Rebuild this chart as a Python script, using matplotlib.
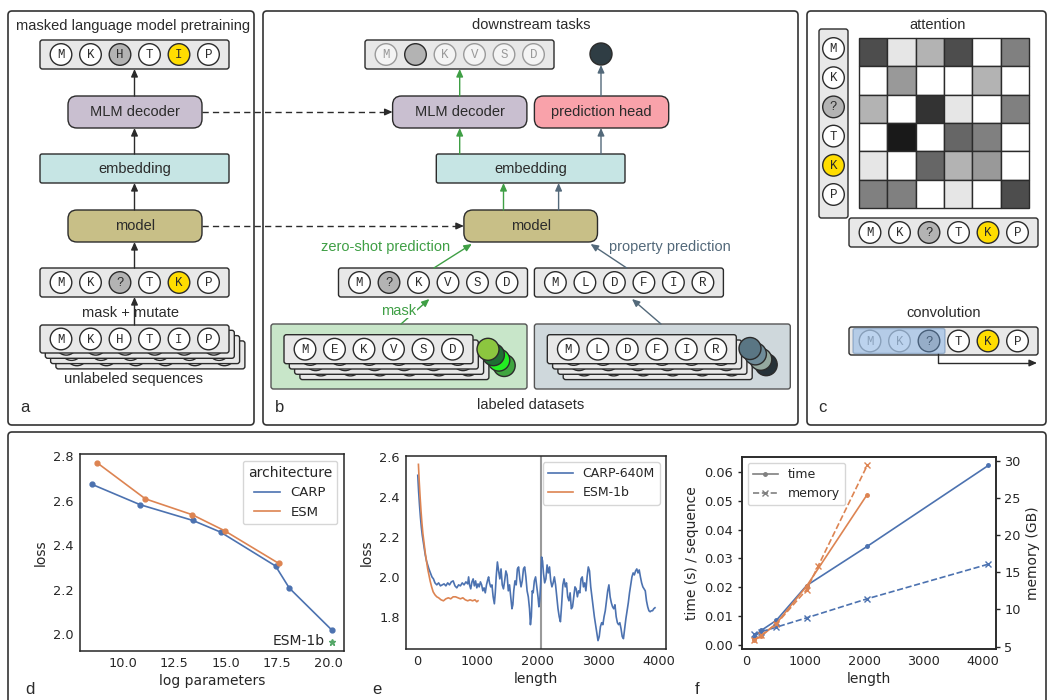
import matplotlib
matplotlib.use('Agg')
import matplotlib.pyplot as plt
from matplotlib.patches import FancyBboxPatch, Circle, Rectangle
from matplotlib.lines import Line2D

# ---------------- data ----------------
seq_mlm_out = ['M', 'K', 'H', 'T', 'I', 'P']
seq_masked = ['M', 'K', '?', 'T', 'K', 'P']
seq_unlabeled = ['M', 'K', 'H', 'T', 'I', 'P']
seq_down_out = ['M', '', 'K', 'V', 'S', 'D']
seq_zeroshot = ['M', '?', 'K', 'V', 'S', 'D']
seq_property = ['M', 'L', 'D', 'F', 'I', 'R']
seq_labeled_zs = ['M', 'E', 'K', 'V', 'S', 'D']
attention = [
    [0.70, 0.10, 0.30, 0.70, 0.00, 0.50],
    [0.00, 0.40, 0.00, 0.00, 0.30, 0.00],
    [0.30, 0.00, 0.80, 0.10, 0.00, 0.50],
    [0.00, 0.90, 0.00, 0.60, 0.50, 0.00],
    [0.10, 0.00, 0.60, 0.30, 0.40, 0.00],
    [0.50, 0.50, 0.00, 0.10, 0.00, 0.70],
]

# panel d
carp_logparams = [8.49, 10.83, 13.41, 14.75, 17.43, 18.10, 20.18]
carp_loss = [2.673, 2.582, 2.511, 2.459, 2.307, 2.208, 2.019]
esm_logparams = [8.75, 11.09, 13.37, 14.95, 17.58]
esm_loss = [2.769, 2.608, 2.537, 2.465, 2.319]
esm1b_logparams = [20.18]
esm1b_loss = [1.966]

# panel e
e_len_carp = [16, 30, 45, 60, 75, 90, 105, 120, 140, 160,
              180, 200, 225, 250, 275, 300, 330, 360, 390, 420,
              450, 480, 510, 540, 570, 600, 630, 660, 690, 720,
              750, 780, 810, 840, 855, 870, 890, 910, 930, 950,
              970, 990, 1010, 1030, 1050, 1070, 1090, 1110, 1130, 1150,
              1170, 1185, 1200, 1220, 1240, 1260, 1280, 1295, 1310, 1330,
              1350, 1370, 1390, 1410, 1430, 1450, 1470, 1490, 1510, 1530,
              1550, 1570, 1585, 1600, 1620, 1640, 1660, 1680, 1700, 1720,
              1740, 1760, 1780, 1800, 1820, 1840, 1860, 1875, 1890, 1905,
              1920, 1940, 1960, 1980, 2000, 2015, 2030, 2045, 2060, 2075,
              2090, 2110, 2130, 2150, 2170, 2190, 2210, 2230, 2250, 2270,
              2290, 2310, 2330, 2350, 2370, 2390, 2410, 2430, 2450, 2470,
              2490, 2510, 2530, 2550, 2570, 2590, 2610, 2630, 2650, 2670,
              2690, 2710, 2730, 2750, 2770, 2790, 2810, 2830, 2850, 2870,
              2890, 2910, 2930, 2950, 2970, 2990, 3010, 3030, 3050, 3070,
              3090, 3110, 3130, 3150, 3170, 3190, 3210, 3230, 3250, 3270,
              3290, 3310, 3330, 3350, 3370, 3390, 3410, 3430, 3450, 3470,
              3490, 3510, 3530, 3550, 3570, 3590, 3610, 3630, 3650, 3670,
              3690, 3710, 3730, 3750, 3770, 3790, 3810, 3830, 3850, 3870,
              3890, 3910, 3930]
e_loss_carp = [2.51, 2.43, 2.36, 2.30, 2.25, 2.21, 2.18, 2.15, 2.11, 2.08,
               2.06, 2.04, 2.02, 2.00, 1.99, 1.97, 1.96, 1.97, 1.955, 1.96,
               1.965, 1.955, 1.97, 1.96, 1.975, 1.98, 1.955, 1.945, 1.96, 1.955,
               1.97, 1.96, 1.975, 1.965, 2.00, 1.96, 1.94, 1.975, 1.99, 1.955,
               1.98, 1.945, 1.965, 1.95, 1.975, 1.96, 1.93, 1.945, 1.92, 1.96,
               1.985, 2.00, 1.97, 1.95, 1.96, 1.90, 1.865, 1.92, 2.00, 2.075,
               2.03, 1.99, 2.04, 1.96, 1.94, 1.98, 2.03, 2.01, 1.93, 1.96,
               1.90, 1.84, 1.86, 1.93, 1.98, 1.96, 2.04, 2.05, 1.99, 1.95,
               1.98, 2.04, 2.05, 2.00, 1.93, 1.90, 1.84, 1.76, 1.80, 1.93,
               1.92, 1.98, 2.00, 1.95, 1.90, 1.85, 1.89, 1.97, 2.10, 2.08,
               2.02, 1.97, 1.99, 2.06, 2.02, 2.05, 1.98, 1.95, 1.97, 2.00,
               1.96, 1.90, 1.84, 1.80, 1.775, 1.86, 1.96, 1.99, 1.95, 1.97,
               1.90, 1.88, 1.92, 1.84, 1.85, 1.90, 1.95, 1.94, 1.90, 1.93,
               1.92, 1.99, 2.00, 1.95, 1.97, 1.93, 2.00, 2.05, 2.03, 1.95,
               1.90, 1.85, 1.80, 1.76, 1.72, 1.68, 1.70, 1.75, 1.77, 1.76,
               1.80, 1.83, 1.88, 1.93, 1.96, 1.90, 1.87, 1.85, 1.84, 1.86,
               1.80, 1.77, 1.76, 1.77, 1.74, 1.70, 1.69, 1.74, 1.79, 1.83,
               1.87, 1.92, 1.96, 2.00, 2.02, 2.01, 2.03, 2.04, 2.02, 2.035,
               2.00, 1.97, 1.95, 1.94, 1.93, 1.88, 1.85, 1.83, 1.825, 1.83,
               1.83, 1.84, 1.845]
e_len_esm = [27, 40, 55, 70, 85, 100, 120, 140, 160, 180,
             200, 220, 245, 270, 300, 330, 360, 400, 440, 480,
             520, 560, 600, 640, 680, 720, 760, 800, 840, 880,
             920, 960, 990, 1010]
e_loss_esm = [2.565, 2.48, 2.40, 2.33, 2.27, 2.22, 2.17, 2.12, 2.08, 2.04,
              2.01, 1.98, 1.95, 1.925, 1.91, 1.90, 1.895, 1.885, 1.88, 1.89,
              1.895, 1.89, 1.90, 1.90, 1.895, 1.89, 1.895, 1.885, 1.88, 1.885,
              1.88, 1.885, 1.875, 1.88]
e_max_len = 2048

# panel f
f_len_carp = [128, 256, 512, 1024, 2048, 4096]
f_time_carp = [0.0025, 0.0050, 0.0085, 0.0206, 0.0342, 0.0623]
f_mem_carp = [6.64, 7.0, 7.62, 8.87, 11.43, 16.08]
f_len_esm = [128, 256, 512, 1024, 2048]
f_time_esm = [0.0016, 0.0030, 0.0074, 0.0204, 0.0522]
f_len_esm_mem = [128, 256, 512, 1024, 1220, 2048]
f_mem_esm = [5.86, 6.53, 8.05, 12.65, 15.85, 29.34]

# ---------------- figure ----------------
W, H = 1048, 700
fig = plt.figure(figsize=(W / 100, H / 100), dpi=100)
ov = fig.add_axes([0, 0, 1, 1], zorder=0)
ov.set_xlim(0, W)
ov.set_ylim(H, 0)
ov.axis('off')

SANS = 'Liberation Sans'
MONO = 'Liberation Mono'
DARK = '#2b2b2b'
GREEN_T = '#3f9f45'
SLATE = '#53697a'


def rbox(x0, y0, x1, y1, fc, ec=DARK, lw=1.0, r=2.5, z=2, alpha=1):
    ov.add_patch(FancyBboxPatch((x0, y0), x1 - x0, y1 - y0,
                                boxstyle=f'round,pad=0,rounding_size={r}',
                                fc=fc, ec=ec, lw=lw, zorder=z, alpha=alpha))


TOK = {'n': ('white', DARK, DARK), 'm': ('#b3b3b3', DARK, DARK),
       'y': ('#ffdd00', DARK, DARK), 'f': ('#f4f4f4', '#9a9a9a', '#9a9a9a'),
       'b': ('#b3b3b3', DARK, DARK)}
RAD = 10.8


def token(cx, cy, letter, st, z, show=True):
    fc, ec, tc = TOK[st]
    ov.add_patch(Circle((cx, cy), RAD, fc=fc, ec=ec, lw=1.0, zorder=z))
    if letter and show:
        ov.text(cx, cy + 0.6, letter, family=MONO, fontsize=9, ha='center',
                va='center', color=tc, zorder=z + 0.05)


ROW_W, STEP, OFF = 189, 29.5, 21


def row(x0, y0, letters, styles=None, h=29, z=3, fc='#e8e8e8', vertical=False,
        show=True):
    styles = styles or {}
    if vertical:
        rbox(x0, y0, x0 + h, y0 + ROW_W, fc, z=z)
    else:
        rbox(x0, y0, x0 + ROW_W, y0 + h, fc, z=z)
    for i, L in enumerate(letters):
        if vertical:
            cx, cy = x0 + h / 2, y0 + 19.5 + i * 29.2
        else:
            cx, cy = x0 + OFF + i * STEP, y0 + h / 2
        token(cx, cy, L, styles.get(i, 'n'), z + 0.1, show)


def stack(x0, y0, letters, h, z0):
    # back copies are hidden behind the front one: only their circle rims show
    for k in (3, 2, 1, 0):
        row(x0 + k * 5.3, y0 + k * 5.3, letters, h=h, z=z0 + (3 - k), show=(k == 0))


def dots(cx, cy, colors, z0):
    n = len(colors)
    for k in range(n - 1, -1, -1):
        ov.add_patch(Circle((cx + k * 5.4, cy + k * 5.4), 11, fc=colors[k],
                            ec=DARK, lw=1.0, zorder=z0 + (n - k)))


def arrow(x0, y0, x1, y1, color=DARK, z=8):
    ov.annotate('', xy=(x1, y1), xytext=(x0, y0),
                arrowprops=dict(arrowstyle='-|>,head_length=0.45,head_width=0.2',
                                color=color, lw=1.0, shrinkA=0, shrinkB=0,
                                mutation_scale=10), zorder=z)


def dashed_arrow(x0, x1, y):
    ov.plot([x0, x1 - 5], [y, y], color=DARK, lw=1.0, ls=(0, (4.5, 3)), zorder=8)
    arrow(x1 - 6, y, x1, y)


def label(x, y, s, fs=10.5, color=DARK, **kw):
    ov.text(x, y, s, family=SANS, fontsize=fs, ha='center', va='center',
            color=color, zorder=9, **kw)


# panel borders
for (x0, y0, x1, y1) in [(8, 11, 254, 425), (263, 11, 798, 425),
                         (807, 11, 1046, 425), (8, 432, 1046, 712)]:
    rbox(x0, y0, x1, y1, 'white', ec='#333333', lw=1.2, r=4, z=1)

# ---- panel a ----
label(133, 26, 'masked language model pretraining')
row(40, 40, seq_mlm_out, {2: 'm', 4: 'y'})
arrow(134.5, 96, 134.5, 69)
rbox(68, 96, 202, 128, '#c9bfd0', r=9)
label(135, 112, 'MLM decoder')
arrow(134.5, 154, 134.5, 128)
rbox(40, 154, 229, 183, '#c6e5e4', r=2)
label(134.5, 168.5, 'embedding')
arrow(134.5, 210, 134.5, 183)
rbox(68, 210, 202, 242, '#c8bf87', r=9)
label(135, 226, 'model')
arrow(134.5, 268, 134.5, 242)
row(40, 268, seq_masked, {2: 'm', 4: 'y'})
label(131, 313, 'mask + mutate')
arrow(134.5, 325, 134.5, 297, z=10)
stack(40, 325, seq_unlabeled, 28, 3)
label(134, 379, 'unlabeled sequences')
ov.text(20, 412, 'a', family=SANS, fontsize=12, color=DARK, va='baseline')

dashed_arrow(202, 392.6, 112)
dashed_arrow(202, 463.9, 226)

# ---- panel b ----
label(531, 25, 'downstream tasks')
row(365, 40, seq_down_out, {0: 'f', 1: 'b', 2: 'f', 3: 'f', 4: 'f', 5: 'f'})
ov.add_patch(Circle((601, 54), 11, fc='#2f3d44', ec=DARK, lw=1, zorder=4))
arrow(459.7, 96, 459.7, 69, color=GREEN_T)
arrow(601, 96, 601, 65, color=SLATE)
rbox(392.6, 96, 526.9, 128, '#c9bfd0', r=9)
label(459.7, 112, 'MLM decoder')
rbox(534.4, 96, 668.7, 128, '#f9a2aa', r=9)
label(601.5, 112, 'prediction head')
arrow(459.7, 154, 459.7, 128, color=GREEN_T)
arrow(601, 154, 601, 128, color=SLATE)
rbox(436.3, 154, 625, 183, '#c6e5e4', r=2)
label(530.6, 168.5, 'embedding')
arrow(503.5, 210, 503.5, 183, color=GREEN_T)
arrow(558.6, 210, 558.6, 183, color=SLATE)
rbox(463.9, 210, 597.5, 242, '#c8bf87', r=9)
label(530.7, 226, 'model')
label(386, 247, 'zero-shot prediction', color=GREEN_T)
label(670, 247, 'property prediction', color=SLATE)
arrow(433.9, 268, 471.8, 244, color=GREEN_T)
arrow(626.7, 268, 590.6, 244, color=SLATE)
row(338.5, 268, seq_zeroshot, {1: 'm'})
row(534.4, 268, seq_property)
arrow(401, 324, 429.4, 299, color=GREEN_T, z=8)
ov.text(399, 311, 'mask', family=SANS, fontsize=10.5, ha='center', va='center',
        color=GREEN_T, zorder=9,
        bbox=dict(fc='white', ec='none', pad=0.3))
arrow(661, 324, 632, 299, color=SLATE)
rbox(271, 324, 527, 389, '#c8e6c9', ec='#555555', r=2.5, z=2)
rbox(534.4, 324, 790.3, 389, '#cfd8dc', ec='#555555', r=2.5, z=2)
stack(284, 334.7, seq_labeled_zs, 29, 3)
dots(488, 349.3, ['#8cc63f', '#1f6e33', '#22ee22', '#3fa53f'], 8)
stack(547.3, 334.7, seq_property, 29, 3)
dots(750, 348.5, ['#5a7684', '#6f8c99', '#95a99f', '#263238'], 8)
label(531, 405, 'labeled datasets')
ov.text(275, 412, 'b', family=SANS, fontsize=12, color=DARK, va='baseline')

# ---- panel c ----
label(938, 25, 'attention')
row(819, 29, seq_masked, {2: 'm', 4: 'y'}, vertical=True)
cell = 170 / 6
for i, rvals in enumerate(attention):
    for j, v in enumerate(rvals):
        g = 1 - v
        ov.add_patch(Rectangle((859 + j * cell, 38 + i * cell), cell, cell,
                               fc=(g, g, g), ec='#2b2b2b', lw=1.0, zorder=3))
row(849, 218, seq_masked, {2: 'm', 4: 'y'})
label(944, 313, 'convolution')
row(849, 327, seq_masked, {0: 'f', 1: 'f', 2: 'm', 4: 'y'}, h=28)
rbox(853, 328.5, 945, 353.5, '#70a7e6', ec='#4f74a0', r=2, z=5, alpha=0.42)
ov.plot([938, 938, 1030], [353.5, 363, 363], color=DARK, lw=1.0, zorder=8)
arrow(1030, 363, 1037, 363)
ov.text(818, 412, 'c', family=SANS, fontsize=12, color=DARK, va='baseline')

# ---------------- plots ----------------
plt.rcParams['font.family'] = ['DejaVu Sans']
TXT = '#262626'
BLUE, ORANGE, GREEN = '#4c72b0', '#dd8452', '#55a868'


def ax_at(l, t, r, b):
    return fig.add_axes([l / W, 1 - b / H, (r - l) / W, (b - t) / H])


def style(ax, fs=9.3):
    for s in ax.spines.values():
        s.set_color(TXT)
        s.set_linewidth(1.1)
    ax.tick_params(colors=TXT, labelsize=fs, length=0, pad=4.5)


# d
axd = ax_at(80, 454, 344, 651)
style(axd)
axd.plot(carp_logparams, carp_loss, '-o', color=BLUE, lw=1.2, ms=3.5)
axd.plot(esm_logparams, esm_loss, '-o', color=ORANGE, lw=1.2, ms=3.5)
axd.plot(esm1b_logparams, esm1b_loss, '*', color=GREEN, ms=5)
axd.annotate('ESM-1b', (esm1b_logparams[0], esm1b_loss[0]), xytext=(-5, 1),
             textcoords='offset points', ha='right', va='center', fontsize=10, color=TXT)
axd.set_xticks([10, 12.5, 15, 17.5, 20])
axd.set_xticklabels(['10.0', '12.5', '15.0', '17.5', '20.0'])
axd.set_yticks([2.0, 2.2, 2.4, 2.6, 2.8])
axd.set_xlabel('log parameters', fontsize=10, color=TXT, labelpad=3)
axd.set_ylabel('loss', fontsize=10, color=TXT)
lg = axd.legend([Line2D([], [], color=BLUE, lw=1.2), Line2D([], [], color=ORANGE, lw=1.2)],
                ['CARP', 'ESM'], title='architecture', loc='upper right',
                fontsize=9.5, title_fontsize=10, edgecolor='#cccccc', framealpha=0.8)
for t in lg.get_texts():
    t.set_color(TXT)
lg.get_title().set_color(TXT)
ov.text(25, 694, 'd', family=SANS, fontsize=12, color=DARK, va='baseline')

# e
axe = ax_at(406, 456, 666, 649)
style(axe)
axe.axvline(e_max_len, color='#9a9a9a', lw=1.5, zorder=1)
axe.plot(e_len_carp, e_loss_carp, color=BLUE, lw=1.2, label='CARP-640M')
axe.plot(e_len_esm, e_loss_esm, color=ORANGE, lw=1.2, label='ESM-1b')
axe.set_xlim(-178, 4112)
axe.set_ylim(1.638, 2.607)
axe.set_xticks([0, 1000, 2000, 3000, 4000])
axe.set_yticks([1.8, 2.0, 2.2, 2.4, 2.6])
axe.set_xlabel('length', fontsize=10, color=TXT, labelpad=3)
axe.set_ylabel('loss', fontsize=10, color=TXT)
lg = axe.legend(loc='upper right', fontsize=9, edgecolor='#cccccc', framealpha=0.8)
for t in lg.get_texts():
    t.set_color(TXT)
ov.text(372, 694, 'e', family=SANS, fontsize=12, color=DARK, va='baseline')

# f
axf = ax_at(741.7, 456.7, 996, 649)
style(axf)
axf2 = axf.twinx()
style(axf2)
axf.tick_params(axis='y', length=3, width=1, pad=3, left=True)
axf2.tick_params(axis='y', length=3, width=1, pad=3, right=True)
axf.plot(f_len_carp, f_time_carp, '-', marker='o', ms=2.5, color=BLUE, lw=1.2)
axf.plot(f_len_esm, f_time_esm, '-', marker='o', ms=2.5, color=ORANGE, lw=1.2)
axf2.plot(f_len_carp, f_mem_carp, '--', marker='x', ms=4.5, mew=1, color=BLUE, lw=1.2)
axf2.plot(f_len_esm_mem, f_mem_esm, '--', marker='x', ms=4.5, mew=1, color=ORANGE, lw=1.2)
axf.set_xlim(-73, 4225)
axf.set_xticks([0, 1000, 2000, 3000, 4000])
axf.set_yticks([0.0, 0.01, 0.02, 0.03, 0.04, 0.05, 0.06])
axf.set_yticklabels(['0.00', '0.01', '0.02', '0.03', '0.04', '0.05', '0.06'])
axf2.set_yticks([5, 10, 15, 20, 25, 30])
axf.set_xlabel('length', fontsize=10, color=TXT, labelpad=3)
axf.set_ylabel('time (s) / sequence', fontsize=10, color=TXT, labelpad=4)
axf2.set_ylabel('memory (GB)', fontsize=10, color=TXT, labelpad=4)
lg = axf.legend([Line2D([], [], color='#808080', lw=1.2, marker='o', ms=2.5),
                 Line2D([], [], color='#808080', lw=1.2, ls='--', marker='x', ms=4.5)],
                ['time', 'memory'], loc='upper left', fontsize=9,
                edgecolor='#cccccc', framealpha=0.8)
for t in lg.get_texts():
    t.set_color(TXT)
ov.text(695, 694, 'f', family=SANS, fontsize=12, color=DARK, va='baseline')

fig.savefig('out.png', dpi=100)
